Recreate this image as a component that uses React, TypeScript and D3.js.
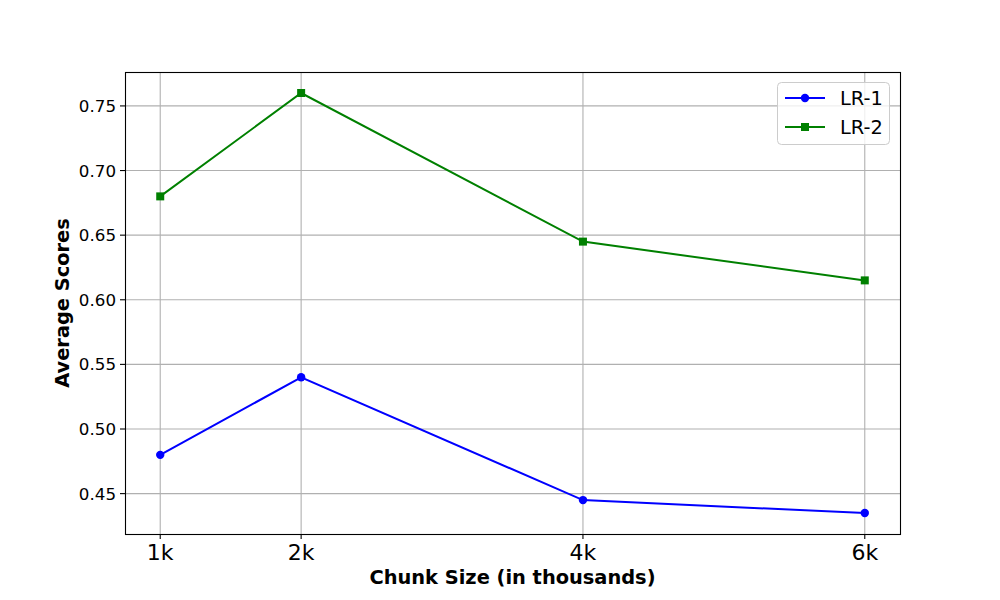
import React from "react";
import * as d3 from "d3";

const xValues = [1, 2, 4, 6];
const xTickLabels = ["1k", "2k", "4k", "6k"];
const lr1 = [0.48, 0.54, 0.445, 0.435];
const lr2 = [0.68, 0.76, 0.645, 0.615];
const yTicks = [0.45, 0.5, 0.55, 0.6, 0.65, 0.7, 0.75];

const W = 1000, H = 600;
const L = 125, R = 900, T = 72, B = 534;
const FONT = "DejaVu Sans, sans-serif";

export default function App() {
  const x = d3.scaleLinear().domain([0.75, 6.25]).range([L, R]);
  const y = d3.scaleLinear().domain([0.41875, 0.77625]).range([B, T]);
  const line = d3.line<number>().x((_, i) => x(xValues[i])).y((d) => y(d));
  const series = [
    { name: "LR-1", data: lr1, color: "#0000ff", marker: "circle" },
    { name: "LR-2", data: lr2, color: "#008000", marker: "square" },
  ];
  const marker = (m: string, cx: number, cy: number, color: string, key: any) =>
    m === "circle" ? (
      <circle key={key} cx={cx} cy={cy} r={4.2} fill={color} />
    ) : (
      <rect key={key} x={cx - 4} y={cy - 4} width={8} height={8} fill={color} />
    );
  return (
    <div style={{ margin: -8 }}>
      <svg width={W} height={H} style={{ display: "block", fontFamily: FONT }}>
        <rect width={W} height={H} fill="white" />
        {/* grid */}
        {xValues.map((v) => (
          <line key={"gx" + v} x1={x(v)} x2={x(v)} y1={T} y2={B} stroke="#b0b0b0" strokeWidth={1.1} />
        ))}
        {yTicks.map((v) => (
          <line key={"gy" + v} x1={L} x2={R} y1={y(v)} y2={y(v)} stroke="#b0b0b0" strokeWidth={1.1} />
        ))}
        {/* lines */}
        {series.map((s) => (
          <g key={s.name}>
            <path d={line(s.data) || ""} fill="none" stroke={s.color} strokeWidth={2} />
            {s.data.map((d, i) => marker(s.marker, x(xValues[i]), y(d), s.color, i))}
          </g>
        ))}
        {/* spines */}
        <rect x={L + 0.5} y={T + 0.5} width={R - L} height={B - T} fill="none" stroke="black" strokeWidth={1.1} />
        {/* ticks */}
        {xValues.map((v, i) => (
          <g key={"tx" + v}>
            <line x1={x(v)} x2={x(v)} y1={B} y2={B + 5} stroke="black" strokeWidth={1.1} />
            <text x={x(v)} y={B + 26} textAnchor="middle" fontSize={22} fill="black">
              {xTickLabels[i]}
            </text>
          </g>
        ))}
        {yTicks.map((v) => (
          <g key={"ty" + v}>
            <line x1={L - 5} x2={L} y1={y(v)} y2={y(v)} stroke="black" strokeWidth={1.1} />
            <text x={L - 9} y={y(v)} dy="0.36em" textAnchor="end" fontSize={16.7} fill="black">
              {v.toFixed(2)}
            </text>
          </g>
        ))}
        {/* axis labels */}
        <text x={(L + R) / 2} y={584} textAnchor="middle" fontSize={19.4} fontWeight="bold">
          Chunk Size (in thousands)
        </text>
        <text
          transform={`translate(69,${(T + B) / 2}) rotate(-90)`}
          textAnchor="middle"
          fontSize={19.4}
          fontWeight="bold"
        >
          Average Scores
        </text>
        {/* legend */}
        <g>
          <rect x={777.5} y={82.5} width={112} height={62} rx={4} fill="white" fillOpacity={0.8} stroke="#cccccc" strokeWidth={1} />
          {series.map((s, i) => {
            const cy = 98 + i * 29;
            return (
              <g key={"lg" + s.name}>
                <line x1={785} x2={825} y1={cy} y2={cy} stroke={s.color} strokeWidth={2} />
                {marker(s.marker, 805, cy, s.color, "m")}
                <text x={840} y={cy} dy="0.36em" fontSize={19.4} fill="black">
                  {s.name}
                </text>
              </g>
            );
          })}
        </g>
      </svg>
    </div>
  );
}
